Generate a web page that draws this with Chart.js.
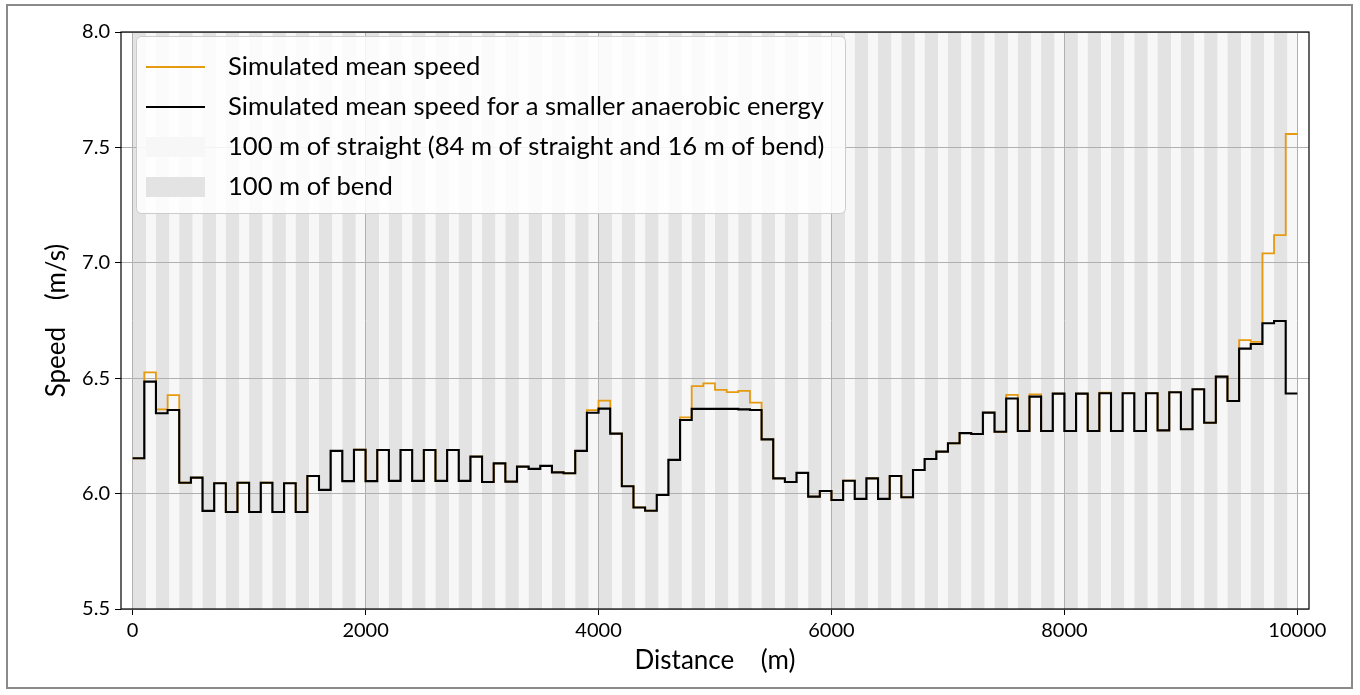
<!DOCTYPE html>
<html>
<head>
<meta charset="utf-8">
<script src="https://cdn.jsdelivr.net/npm/chart.js@4.4.1/dist/chart.umd.min.js"></script>
<style>
  html, body { margin: 0; padding: 0; background: #fff; }
  #wrap { width: 1360px; height: 695px; position: relative; }
</style>
</head>
<body>
<div id="wrap"><canvas id="chart"></canvas></div>
<script>
// 100 m segments, mean speed (m/s) over each
const segmentLength = 100;
const meanSpeed = [
  6.153, 6.525, 6.365, 6.427, 6.047, 6.069, 5.925, 6.045, 5.920, 6.047,
  5.920, 6.047, 5.920, 6.045, 5.920, 6.076, 6.016, 6.185, 6.054, 6.190,
  6.054, 6.189, 6.055, 6.189, 6.055, 6.189, 6.055, 6.189, 6.055, 6.160,
  6.050, 6.131, 6.052, 6.117, 6.107, 6.120, 6.092, 6.088, 6.185, 6.362,
  6.403, 6.260, 6.032, 5.940, 5.926, 5.994, 6.146, 6.330, 6.466, 6.478,
  6.449, 6.440, 6.445, 6.394, 6.235, 6.066, 6.050, 6.090, 5.987, 6.011,
  5.972, 6.056, 5.977, 6.066, 5.977, 6.076, 5.984, 6.102, 6.150, 6.182,
  6.218, 6.262, 6.258, 6.351, 6.268, 6.428, 6.271, 6.430, 6.271, 6.433,
  6.271, 6.433, 6.271, 6.437, 6.271, 6.435, 6.271, 6.435, 6.274, 6.439,
  6.279, 6.452, 6.307, 6.507, 6.401, 6.665, 6.657, 7.041, 7.120, 7.558
];
const smallerAnaerobic = [
  6.153, 6.485, 6.348, 6.362, 6.047, 6.069, 5.925, 6.045, 5.920, 6.047,
  5.920, 6.047, 5.920, 6.045, 5.920, 6.076, 6.016, 6.185, 6.054, 6.190,
  6.054, 6.189, 6.055, 6.189, 6.055, 6.189, 6.055, 6.189, 6.055, 6.160,
  6.050, 6.131, 6.052, 6.117, 6.107, 6.120, 6.092, 6.088, 6.185, 6.350,
  6.368, 6.260, 6.032, 5.940, 5.926, 5.994, 6.146, 6.319, 6.367, 6.367,
  6.367, 6.367, 6.365, 6.362, 6.235, 6.066, 6.050, 6.090, 5.987, 6.011,
  5.972, 6.056, 5.977, 6.066, 5.977, 6.076, 5.984, 6.102, 6.150, 6.182,
  6.218, 6.262, 6.258, 6.351, 6.268, 6.412, 6.271, 6.420, 6.271, 6.433,
  6.271, 6.433, 6.271, 6.435, 6.271, 6.435, 6.271, 6.435, 6.274, 6.439,
  6.279, 6.452, 6.307, 6.507, 6.401, 6.628, 6.648, 6.738, 6.748, 6.434
];
const xTicks = [0, 2000, 4000, 6000, 8000, 10000];
const yTicks = [5.5, 6.0, 6.5, 7.0, 7.5, 8.0];
const legendLabels = [
  'Simulated mean speed',
  'Simulated mean speed for a smaller anaerobic energy',
  '100 m of straight (84 m of straight and 16 m of bend)',
  '100 m of bend'
];

const orange = '#e69a10';
const straightColor = '#f7f7f7';
const bendColor = '#e3e3e3';
const FONT = 'Lato';

function stepPoints(values) {
  const pts = values.map((v, i) => ({ x: i * segmentLength, y: v }));
  pts.push({ x: values.length * segmentLength, y: values[values.length - 1] });
  return pts;
}

// background stripes: bend then straight, each 200 m of track
const stripes = {
  id: 'stripes',
  beforeDraw(chart) {
    const { ctx, chartArea: a, scales: { x } } = chart;
    ctx.save();
    ctx.fillStyle = '#fff';
    ctx.fillRect(0, 0, chart.width, chart.height);
    const total = meanSpeed.length * segmentLength;
    for (let d = 0; d < total; d += 200) {
      const x0 = x.getPixelForValue(d);
      const x1 = x.getPixelForValue(d + 116);
      const x2 = x.getPixelForValue(d + 200);
      ctx.fillStyle = bendColor;
      ctx.fillRect(x0, a.top, x1 - x0, a.bottom - a.top);
      ctx.fillStyle = straightColor;
      ctx.fillRect(x1, a.top, x2 - x1, a.bottom - a.top);
    }
    ctx.restore();
  },
  afterDraw(chart) {
    const { ctx, chartArea: a } = chart;
    ctx.save();
    // axes box
    ctx.strokeStyle = '#000';
    ctx.lineWidth = 1.2;
    ctx.strokeRect(a.left, a.top, a.right - a.left, a.bottom - a.top);

    // legend
    const bx = 136, by = 36, bw = 709, bh = 177;
    ctx.fillStyle = 'rgba(255,255,255,0.85)';
    ctx.strokeStyle = '#cccccc';
    ctx.lineWidth = 1;
    ctx.beginPath();
    ctx.roundRect(bx + 0.5, by + 0.5, bw, bh, 5);
    ctx.fill();
    ctx.stroke();
    const rows = [67, 107, 147, 187];
    ctx.font = '25.6px ' + FONT;
    ctx.textBaseline = 'middle';
    ctx.textAlign = 'left';
    legendLabels.forEach((lab, i) => {
      const y = rows[i];
      if (i < 2) {
        ctx.strokeStyle = i === 0 ? orange : '#000';
        ctx.lineWidth = 2;
        ctx.beginPath();
        ctx.moveTo(146, y);
        ctx.lineTo(205, y);
        ctx.stroke();
      } else {
        ctx.fillStyle = i === 2 ? straightColor : bendColor;
        ctx.fillRect(146, y - 10, 59, 20);
      }
      ctx.fillStyle = '#000';
      ctx.fillText(lab, 228, y);
    });

    // outer frame
    ctx.strokeStyle = '#8a8a8a';
    ctx.lineWidth = 2;
    ctx.strokeRect(7, 5, 1345, 683);
    ctx.restore();
  }
};

const ctx = document.getElementById('chart').getContext('2d');
new Chart(ctx, {
  type: 'line',
  data: {
    datasets: [
      {
        label: legendLabels[1],
        data: stepPoints(smallerAnaerobic),
        borderColor: '#000',
        borderWidth: 2.1,
        stepped: 'before',
        pointRadius: 0,
        fill: false,
        order: 0
      },
      {
        label: legendLabels[0],
        data: stepPoints(meanSpeed),
        borderColor: orange,
        borderWidth: 1.8,
        stepped: 'before',
        pointRadius: 0,
        fill: false,
        order: 1
      }
    ]
  },
  options: {
    responsive: true,
    maintainAspectRatio: false,
    animation: false,
    layout: { padding: { left: 0, right: 51, top: 32, bottom: 0 } },
    plugins: {
      legend: { display: false },
      tooltip: { enabled: false }
    },
    scales: {
      x: {
        type: 'linear',
        min: -100,
        max: 10100,
        afterFit(scale) { scale.height = 86; },
        afterBuildTicks(scale) { scale.ticks = xTicks.map(v => ({ value: v })); },
        ticks: {
          color: '#000',
          font: { family: FONT, size: 20 },
          padding: 4,
          maxRotation: 0,
          callback: v => String(v)
        },
        grid: { color: '#b0b0b0', lineWidth: 1, drawTicks: true, tickLength: 6, tickColor: '#000' },
        border: { display: false },
        title: {
          display: true,
          text: 'Distance    (m)',
          color: '#000',
          font: { family: FONT, size: 26 },
          padding: { top: 0, bottom: 19 }
        }
      },
      y: {
        min: 5.5,
        max: 8.0,
        afterFit(scale) { scale.width = 121; },
        afterBuildTicks(scale) { scale.ticks = yTicks.map(v => ({ value: v })); },
        ticks: {
          color: '#000',
          font: { family: FONT, size: 20 },
          padding: 5,
          callback: v => v.toFixed(1)
        },
        grid: { color: '#b0b0b0', lineWidth: 1, drawTicks: true, tickLength: 6, tickColor: '#000' },
        border: { display: false },
        title: {
          display: true,
          text: 'Speed    (m/s)',
          color: '#000',
          font: { family: FONT, size: 26 },
          padding: { top: 41, bottom: 0 }
        }
      }
    }
  },
  plugins: [stripes]
});
</script>
</body>
</html>
